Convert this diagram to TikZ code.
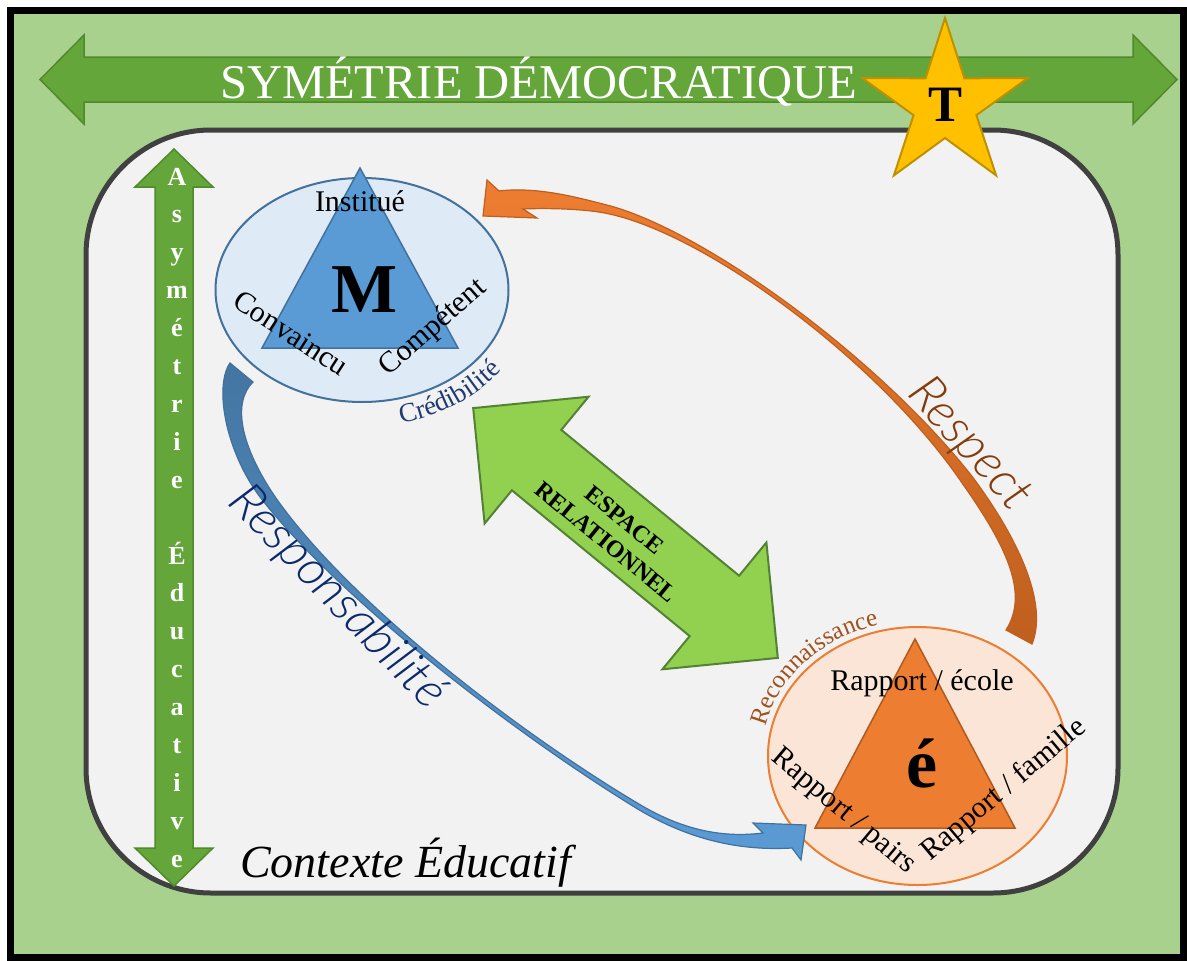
\documentclass[tikz,border=0pt]{standalone}
\usepackage{fontspec}
\setmainfont{Liberation Serif}
\IfFontExistsTF{Lato Light Italic}{\newfontfamily\handfont{Lato Light Italic}}{\newfontfamily\handfont{Lato}[UprightFont={* Italic}]}
\usetikzlibrary{shapes.geometric,decorations.text}
\definecolor{bggreen}{HTML}{A9D18E}
\definecolor{arrgreen}{HTML}{64A63A}
\definecolor{arrgreenb}{HTML}{4F8A2C}
\definecolor{ctxfill}{HTML}{F2F2F2}
\definecolor{ctxdraw}{HTML}{404040}
\definecolor{mellfill}{HTML}{DEEBF7}
\definecolor{mblue}{HTML}{5B9BD5}
\definecolor{mblueb}{HTML}{41719C}
\definecolor{eellfill}{HTML}{FBE5D6}
\definecolor{eorange}{HTML}{ED7D31}
\definecolor{eorangeb}{HTML}{AE5A21}
\definecolor{eorangedk}{HTML}{BF5F1E}
\definecolor{espfill}{HTML}{92D050}
\definecolor{espdraw}{HTML}{548235}
\definecolor{starfill}{HTML}{FFC000}
\definecolor{stardraw}{HTML}{BF9000}
\definecolor{credcol}{HTML}{1F3B73}
\definecolor{respcol}{HTML}{0B2A6B}
\definecolor{reccol}{HTML}{A0521D}
\definecolor{respectcol}{HTML}{843C0C}
\begin{document}
\begin{tikzpicture}[x=1pt,y=-1pt,
  lbl/.style={inner sep=0pt, font=\fontsize{30}{34}\selectfont},
  bigletter/.style={inner sep=0pt, font=\fontsize{70}{80}\selectfont\bfseries},
  vlet/.style={inner sep=0pt, anchor=base, text=white, font=\fontsize{26}{30}\selectfont\bfseries},
  handtext/.style={inner sep=0pt, font=\fontsize{50}{56}\selectfont\handfont},
  greenarrow/.style={fill=arrgreen, draw=arrgreenb, line width=1.5},
  orarrow/.style={top color=eorange, bottom color=eorangedk, draw=eorangedk, line width=1.2},
  bluearrow/.style={top color=mblueb!90!mblue, bottom color=mblue, draw=mblueb, line width=1.2},
]
\useasboundingbox (0,0) rectangle (1187,961);
% frame
\draw[line width=7, fill=bggreen] (10.5,10.5) rectangle (1183.5,957.5);
% top banner double arrow
\path[greenarrow] (40,79.5) -- (84,35) -- (84,57) -- (1133,57) -- (1133,35) -- (1177,79.5)
  -- (1133,124) -- (1133,102) -- (84,102) -- (84,124) -- cycle;
\node[inner sep=0pt, anchor=base west, text=white, font=\fontsize{48.5}{52}\selectfont] (sym) at (220,98) {SYMÉTRIE DÉMOCRATIQUE};
% context rounded rectangle
\draw[rounded corners=125, line width=5, draw=ctxdraw, fill=ctxfill] (86,130) rectangle (1118,893);
% star
\draw[fill=starfill, draw=stardraw, line width=2] (945,18) -- (964.4,78.3) -- (1027.7,78.1) -- (976.4,115.2) -- (996.1,175.4)
  -- (945,138) -- (893.9,175.4) -- (913.6,115.2) -- (862.3,78.1) -- (925.6,78.3) -- cycle;
\node[inner sep=0pt, font=\fontsize{51}{56}\selectfont\bfseries] (T) at (945,105) {T};
% vertical double arrow
\path[greenarrow] (174,149) -- (213,187) -- (193,187) -- (193,848) -- (213,848) -- (174,886)
  -- (135,848) -- (155,848) -- (155,187) -- (135,187) -- cycle;
\foreach \ch [count=\k from 0] in {A,s,y,m,é,t,r,i,e}
  \node[vlet] (va\k) at (177,185+37.9*\k) {\ch};
\foreach \ch [count=\k from 10] in {É,d,u,c,a,t,i,v,e}
  \node[vlet] (vb\k) at (177,185+37.9*\k) {\ch};
% M ellipse
\node[ellipse, inner sep=0pt, minimum width=293, minimum height=224, fill=mellfill, draw=mblueb, line width=2] (Mell) at (362,290) {};
\draw[fill=mblue, draw=mblueb, line width=1.5] (360,168) -- (458,348) -- (262,348) -- cycle;
\node[bigletter] (M) at (365,290) {M};
\node[lbl] (inst) at (360,201) {Institué};
\node[lbl, rotate=-33] (conv) at (291,333) {Convaincu};
\node[lbl, rotate=41] (comp) at (433,328) {Compétent};
\path[decorate, decoration={text along path, text align=center,
  text={|\fontsize{27}{27}\selectfont\color{credcol}|Crédibilité}}]
  (362,290) ++(82:172 and 137) arc[start angle=82, end angle=30, x radius=172, y radius=137];
% e ellipse
\node[ellipse, inner sep=0pt, minimum width=299, minimum height=258, fill=eellfill, draw=eorange, line width=2] (Eell) at (917.5,756) {};
\draw[fill=eorange, draw=eorangeb, line width=1.5] (915,639) -- (1015,828) -- (815,828) -- cycle;
\node[bigletter] (E) at (922,763) {é};
\node[lbl] (ecole) at (922,683) {Rapport / école};
\node[lbl, rotate=-40] (pairs) at (843,812) {Rapport / pairs};
\node[lbl, rotate=40] (famille) at (1004,790) {Rapport / famille};
\path[decorate, decoration={text along path, text align=center,
  text={|\fontsize{25}{25}\selectfont\color{reccol}|Reconnaissance}}]
  (917.5,756) ++(190:156 and 135) arc[start angle=190, end angle=258, x radius=156, y radius=135];
% espace relationnel double arrow
\path[fill=espfill, draw=espdraw, line width=2] (473.2,408.1) -- (588.6,396.7) -- (561.3,429.9) -- (739.1,575.7)
  -- (766.4,542.5) -- (777.8,657.9) -- (662.4,669.3) -- (689.7,636.1) -- (511.9,490.3) -- (484.6,523.5) -- cycle;
\node[inner sep=0pt, rotate=-39.3, align=center, font=\fontsize{24}{29}\selectfont\bfseries] (esp) at (615.5,531) {ESPACE\\RELATIONNEL};
% orange curved arrow (Respect)
\coordinate (orTailOut) at (1032,644);
\coordinate (orTailIn) at (1006,630);
\path[orarrow] (orTailOut) .. controls (1047.8,605) and (1020.7,541.9) .. (972.9,477.5)
  .. controls (880.8,359.4) and (707.2,233) .. (611,206.1)
  .. controls (585,199.6) and (540,186) .. (499,191)
  -- (487,180) -- (483,216) -- (537,218) -- (523,209)
  .. controls (545,208) and (585,208.5) .. (609,213.9)
  .. controls (706.8,235) and (879.2,360.6) .. (963.1,484.5)
  .. controls (1009.3,550.1) and (1028.2,595) .. (orTailIn) -- cycle;
\node[handtext, text=respectcol, rotate=-48] (respect) at (969,445) {Respect};
% blue curved arrow (Responsabilite)
\coordinate (blTailOut) at (230,363);
\coordinate (blTailIn) at (253,382);
\path[bluearrow] (blTailOut) .. controls (213.1,387.9) and (226.8,457.4) .. (265.2,503.6)
  .. controls (346.8,604.9) and (519.2,736.8) .. (638.7,809.6)
  .. controls (690,840) and (740,851) .. (792,848)
  -- (801,860) -- (806,825) -- (753,823) -- (763,833)
  .. controls (730,837) and (690,834) .. (641.3,805.4)
  .. controls (520.8,734.2) and (349.2,603.1) .. (274.8,496.4)
  .. controls (241.2,446.6) and (231.5,403.3) .. (blTailIn) -- cycle;
\node[handtext, text=respcol, rotate=-46] (respons) at (337,598) {Responsabilité};
% context label
\node[inner sep=0pt, anchor=base west, font=\fontsize{46}{50}\selectfont\itshape] (ctx) at (240,877) {Contexte Éducatif};
\end{tikzpicture}
\end{document}
